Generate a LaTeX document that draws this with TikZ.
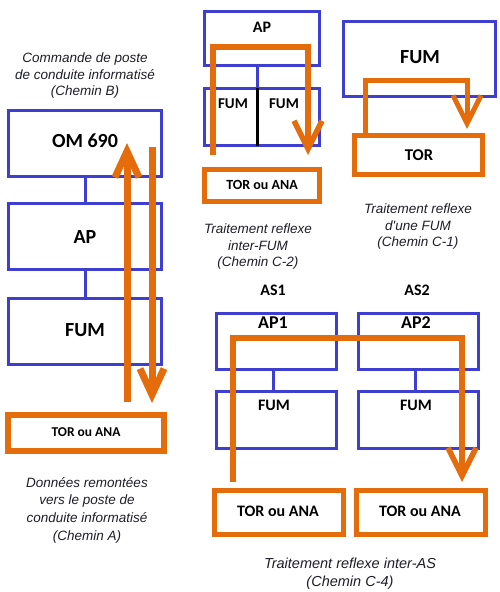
\documentclass[tikz,border=0pt]{standalone}
\usepackage{fontspec}
\setmainfont{Carlito}
\newfontfamily\capfont{Liberation Sans}
\usetikzlibrary{arrows.meta}
\definecolor{boxblue}{RGB}{62,62,208}
\definecolor{pathorange}{RGB}{228,108,10}
\definecolor{captext}{RGB}{30,30,40}
\begin{document}
\begin{tikzpicture}[x=1pt,y=-1pt,
  bluebox/.style 2 args={draw=boxblue,line width=3pt,inner sep=0pt,minimum width=#1,minimum height=#2},
  orbox/.style 2 args={draw=pathorange,line width=5pt,inner sep=0pt,minimum width=#1,minimum height=#2},
  blueline/.style={draw=boxblue,line width=3pt},
  lbl/.style={font=\bfseries\fontsize{#1}{#1}\selectfont,text=black,inner sep=0pt},
  captxt/.style={font=\capfont\itshape\fontsize{13.5}{16.5}\selectfont,text=captext,align=center,inner sep=0pt},
  bigarrow/.style={draw=pathorange,line width=7pt,-{Straight Barb[length=26pt,width=24pt]}},
  orpath/.style={draw=pathorange,line width=5.5pt,-{Straight Barb[length=28pt,width=28pt]}}
]
\fill[white] (0,0) rectangle (500,592);
\useasboundingbox (0,0) rectangle (500,592);

% ---------- left column (Chemin A / B)
\node[captxt] (capB) at (85,76) {Commande de poste\\de conduite informatisé\\(Chemin B)};
\node[bluebox={153pt}{66pt}] (om) at (85,143.5) {};
\node[lbl=20] (omt) at (85,141) {OM 690};
\node[bluebox={153pt}{66pt}] (apL) at (85,236.5) {};
\node[lbl=20] (apLt) at (85,237) {AP};
\node[bluebox={153pt}{66pt}] (fumL) at (85,331) {};
\node[lbl=20] (fumLt) at (85,330) {FUM};
\draw[blueline] (om.south) -- (apL.north);
\draw[blueline] (apL.south) -- (fumL.north);
\node[orbox={156pt}{36pt},line width=6pt] (torL) at (86,433) {};
\node[lbl=13.5] (torLt) at (86,432) {TOR ou ANA};
\node[captxt,font=\capfont\itshape\fontsize{13.5}{17.7}\selectfont] (capA) at (87,510) {Données remontées\\vers le poste de\\conduite informatisé\\(Chemin A)};
\coordinate (upS) at (127,402);
\coordinate (upE) at (127,143);
\coordinate (dnS) at (152,147);
\coordinate (dnE) at (152,403);
\draw[bigarrow] (upS) -- (upE);
\draw[bigarrow] (dnS) -- (dnE);

% ---------- top middle (Chemin C-2)
\node[bluebox={115pt}{54pt}] (apM) at (262,38.5) {};
\node[lbl=16] (apMt) at (262,27) {AP};
\node[bluebox={115pt}{57pt}] (fumM) at (262,117) {};
\draw[blueline] (257,67) -- (257,87);
\draw[line width=3pt,black] (257,88) -- (257,146);
\node[lbl=15] (fumMa) at (233,104) {FUM};
\node[lbl=15] (fumMb) at (284,104) {FUM};
\node[orbox={115pt}{32pt}] (torM) at (262,185.5) {};
\node[lbl=14] (torMt) at (262,185) {TOR ou ANA};
\node[captxt] (capC2) at (258,247) {Traitement reflexe\\inter-FUM\\(Chemin C-2)};
\coordinate (c2s) at (213,155);
\coordinate (c2a) at (213,47);
\coordinate (c2b) at (308,47);
\coordinate (c2e) at (308,155);
\draw[orpath] (c2s) -- (c2a) -- (c2b) -- (c2e);

% ---------- top right (Chemin C-1)
\node[bluebox={152pt}{75pt},line width=3.5pt] (fumR) at (419.5,59) {};
\node[lbl=20] (fumRt) at (420,57) {FUM};
\node[orbox={128pt}{39pt}] (torR) at (418.5,155) {};
\node[lbl=16.5] (torRt) at (419,155) {TOR};
\node[captxt] (capC1) at (418,227) {Traitement reflexe\\d'une FUM\\(Chemin C-1)};
\coordinate (c1s) at (365,133);
\coordinate (c1a) at (365,80);
\coordinate (c1b) at (467,80);
\coordinate (c1e) at (467,129);
\draw[orpath,line width=5pt] (c1s) -- (c1a) -- (c1b) -- (c1e);

% ---------- bottom right (Chemin C-4)
\node[lbl=16] (as1) at (273,290) {AS1};
\node[lbl=16] (as2) at (417,290) {AS2};
\node[bluebox={120pt}{56pt}] (ap1) at (276.5,341.5) {};
\node[lbl=18] (ap1t) at (273,323) {AP1};
\node[bluebox={120pt}{56pt}] (ap2) at (418.5,341.5) {};
\node[lbl=18] (ap2t) at (416,323) {AP2};
\node[bluebox={120pt}{57pt}] (fum1) at (276.5,420) {};
\node[lbl=16] (fum1t) at (274,405) {FUM};
\node[bluebox={120pt}{57pt}] (fum2) at (418.5,420) {};
\node[lbl=16] (fum2t) at (416,405) {FUM};
\draw[blueline] (273,371) -- (273,390);
\draw[blueline] (415,371) -- (415,390);
\node[orbox={129pt}{44pt}] (torA) at (279,512.5) {};
\node[lbl=16] (torAt) at (278,511) {TOR ou ANA};
\node[orbox={129pt}{44pt}] (torB) at (421,512.5) {};
\node[lbl=16] (torBt) at (420,511) {TOR ou ANA};
\node[captxt,font=\capfont\itshape\fontsize{14.5}{18}\selectfont] (capC4) at (350,574) {Traitement reflexe inter-AS\\(Chemin C-4)};
\coordinate (c4s) at (233,482);
\coordinate (c4a) at (233,338);
\coordinate (c4b) at (462,338);
\coordinate (c4e) at (462,482);
\draw[orpath] (c4s) -- (c4a) -- (c4b) -- (c4e);
\end{tikzpicture}
\end{document}
